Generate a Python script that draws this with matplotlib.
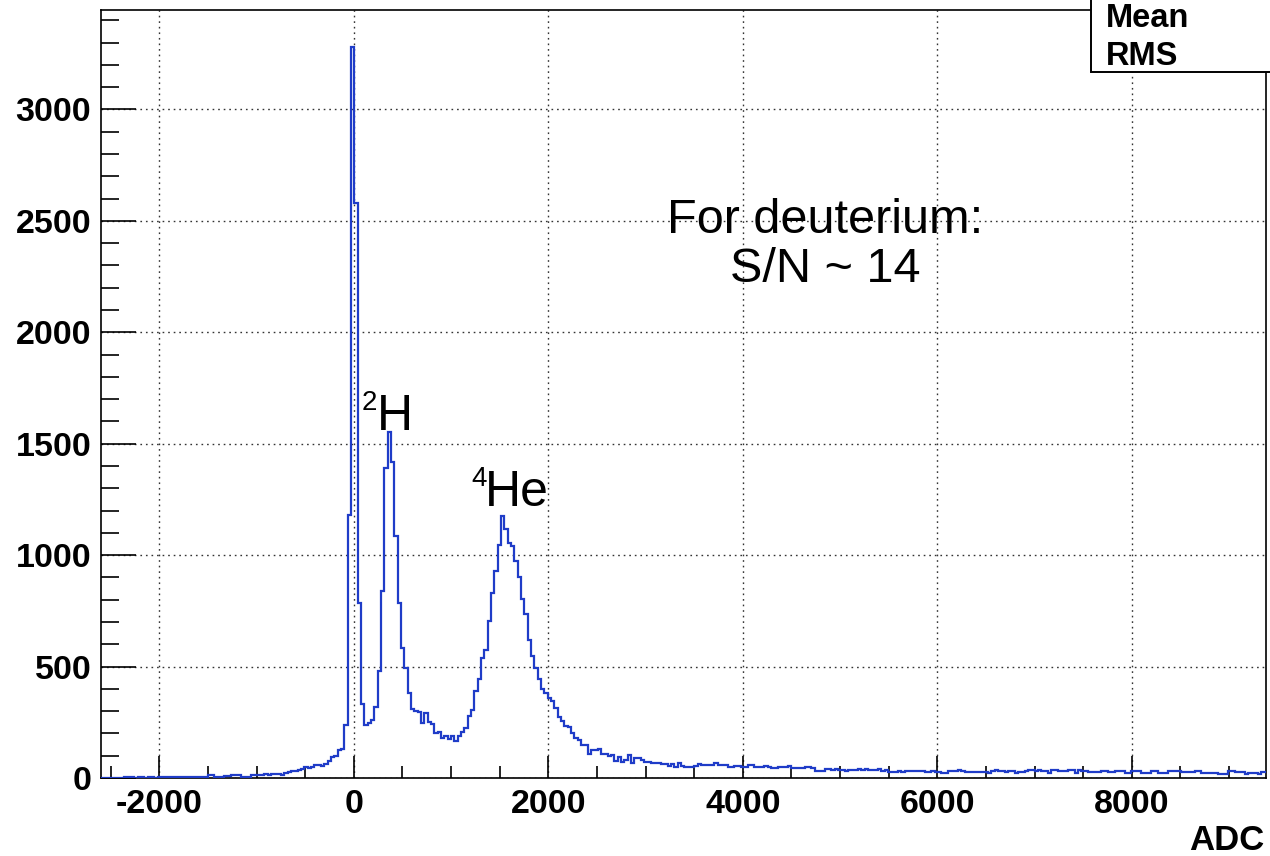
import numpy as np
import matplotlib
matplotlib.use("Agg")
import matplotlib.pyplot as plt
from matplotlib.ticker import MultipleLocator
from matplotlib.patches import Rectangle

# ADC spectrum, 350 bins from -2600 to 9400
adc_min, adc_max = -2600, 9400

# below the pedestal
noise_floor = [0, 0, 0, 0, 0, 0, 0, 3, 3, 3,
               0, 3, 3, 0, 3, 3, 0, 3, 3, 3,
               3, 3, 3, 3, 3, 3, 3, 4, 3, 4,
               4, 4, 12, 12, 4, 4, 4, 8, 8, 12,
               12, 12, 4, 3, 4]
# rise into the pedestal peak at 0
pedestal = [12, 12, 15, 15, 18, 13, 19, 19, 19, 12,
            24, 28, 33, 33, 35, 40, 49, 45, 51, 60,
            60, 55, 62, 76, 94, 97, 126, 130, 238, 1180,
            3282, 2580]
# deuteron peak and the valley after it
deuteron = [784, 332, 238, 245, 260, 317, 482, 837, 1391, 1551,
            1420, 1084, 784, 582, 495, 380, 310, 301, 295, 248,
            293, 250, 242, 200, 208, 178, 190, 174, 188, 168,
            190, 208]
# alpha peak
helium = [226, 280, 305, 392, 445, 537, 575, 706, 829, 931,
          1046, 1176, 1118, 1054, 1040, 974, 901, 804, 736, 617,
          548, 495, 443, 398, 380, 361, 345, 313, 275, 257,
          233, 230, 200, 181, 171, 148, 148]
# long high-ADC tail
tail = [106, 126, 126, 132, 106, 106, 99, 103, 76, 96,
        70, 81, 103, 66, 88, 88, 81, 73, 73, 66,
        66, 66, 64, 64, 54, 64, 51, 66, 54, 51,
        48, 48, 54, 64, 60, 60, 60,
        58, 66, 58, 58, 58, 48, 48, 53, 53, 48,
        48, 58, 58, 48, 48, 48, 55, 50, 43, 43,
        48, 48, 48, 53, 43, 43, 46, 43, 48, 48,
        45, 33, 33, 33, 39, 39, 36, 39, 35, 35,
        33, 35, 35, 35, 39, 35, 39, 35, 37, 35,
        39, 33, 35, 28, 28, 28, 30, 28, 33, 33,
        30, 33, 33, 31, 28, 28, 30, 28, 26,
        24, 24, 33, 30, 33, 36, 30, 28, 28, 28,
        28, 28, 28, 28, 24, 33, 36, 30, 30, 28,
        30, 30, 21, 26, 28, 31, 36, 36, 30, 36,
        33, 33, 24, 36, 36, 33, 30, 30, 36, 36,
        24, 36, 30, 30, 27, 27, 27, 28, 30, 30,
        27, 27, 30, 30, 30, 24, 24, 30, 30, 30,
        24, 24, 24, 30, 30, 21, 21, 21, 33, 33,
        30, 30, 27, 27, 27, 27, 30, 30, 21, 21,
        21, 21, 24, 18, 18, 18, 30, 30, 27, 27,
        27, 18, 21, 21, 21, 18, 27, 27]

x_ticks = [-2000, 0, 2000, 4000, 6000, 8000]
x_tick_labels = ['-2000', '0', '2000', '4000', '6000', '8000']
y_ticks = [0, 500, 1000, 1500, 2000, 2500, 3000]
y_tick_labels = ['0', '500', '1000', '1500', '2000', '2500', '3000']

counts = np.array(noise_floor + pedestal + deuteron + helium + tail, dtype=float)
edges = np.linspace(adc_min, adc_max, len(counts) + 1)

plt.rcParams['font.family'] = ['Liberation Sans', 'DejaVu Sans']
plt.rcParams['axes.unicode_minus'] = False

fig = plt.figure(figsize=(12.7, 8.56), dpi=100)
ax = fig.add_axes([101 / 1270, 1 - 778 / 856, 1165 / 1270, 768 / 856])

# histogram outline
ax.stairs(counts, edges, color='#1f3cc8', linewidth=1.6, zorder=3)

ax.set_xlim(-2600, 9380)
ax.set_ylim(0, 1.05 * counts.max())

ax.set_xticks(x_ticks)
ax.set_xticklabels(x_tick_labels, fontweight='bold')
ax.set_yticks(y_ticks)
ax.set_yticklabels(y_tick_labels, fontweight='bold')
ax.xaxis.set_minor_locator(MultipleLocator(500))
ax.yaxis.set_minor_locator(MultipleLocator(100))

ax.grid(True, which='major', color='#333333', linestyle=(0, (1.2, 2.8)), linewidth=1.0)
ax.set_axisbelow(True)

ax.tick_params(axis='both', which='both', direction='in', top=False, right=False,
               width=1.2, labelsize=24.5, colors='black')
ax.tick_params(axis='x', which='major', length=16, pad=8)
ax.tick_params(axis='x', which='minor', length=9)
ax.tick_params(axis='y', which='major', length=25, pad=7)
ax.tick_params(axis='y', which='minor', length=13)
for sp in ax.spines.values():
    sp.set_linewidth(1.2)

# axis title bottom right
fig.text(1264 / 1270, 1 - 850 / 856, 'ADC', fontsize=25, fontweight='bold',
         ha='right', va='baseline')

# peak labels
ax.text(83, 1652, '2', fontsize=20, ha='left', va='baseline', zorder=5)
ax.text(232, 1563, 'H', fontsize=36, ha='left', va='baseline', zorder=5)
ax.text(1210, 1311, '4', fontsize=20, ha='left', va='baseline', zorder=5)
ax.text(1345, 1221, 'He', fontsize=36, ha='left', va='baseline', zorder=5)

ax.text(4850, 2390, 'For deuterium:\nS/N ~ 14', fontsize=35, ha='center',
        va='center', multialignment='center', linespacing=1.12, zorder=5)

# statistics box in the top right corner
stat_box = Rectangle((1091 / 1270, 1 - 72 / 856), 0.3, 0.3, transform=fig.transFigure,
                     facecolor='white', edgecolor='black', linewidth=1.4, zorder=10)
fig.add_artist(stat_box)
fig.text(1106 / 1270, 1 - 27 / 856, 'Mean', fontsize=23.5, fontweight='bold',
         ha='left', va='baseline', zorder=11)
fig.text(1106 / 1270, 1 - 65 / 856, 'RMS', fontsize=23.5, fontweight='bold',
         ha='left', va='baseline', zorder=11)

fig.savefig('out.png', dpi=100)
